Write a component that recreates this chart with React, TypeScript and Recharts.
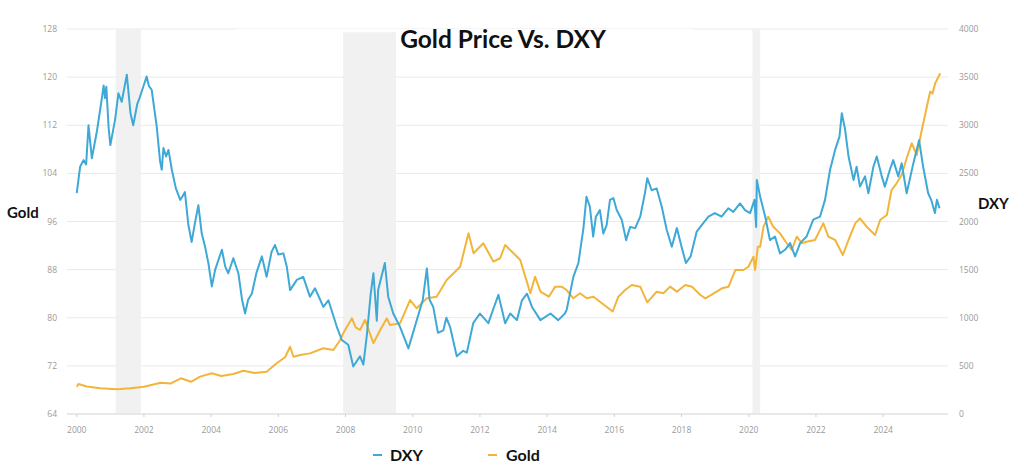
import React from "react";
import {
  ComposedChart,
  Line,
  XAxis,
  YAxis,
  CartesianGrid,
  ReferenceArea,
} from "recharts";

const dxyYears = [
  2000.0, 2000.1, 2000.2, 2000.28, 2000.35, 2000.45, 2000.6, 2000.74, 2000.8, 2000.84, 2000.88, 2000.95,
  2001.0, 2001.14, 2001.24, 2001.34, 2001.49, 2001.6, 2001.68, 2001.8, 2001.88, 2002.08, 2002.15, 2002.23,
  2002.38, 2002.48, 2002.53, 2002.58, 2002.66, 2002.73, 2002.83, 2002.95, 2003.08, 2003.15, 2003.22, 2003.32,
  2003.42, 2003.52, 2003.62, 2003.72, 2003.82, 2003.92, 2004.02, 2004.12, 2004.32, 2004.42, 2004.51, 2004.66,
  2004.81, 2004.92, 2005.01, 2005.1, 2005.21, 2005.35, 2005.51, 2005.65, 2005.8, 2005.9, 2006.0, 2006.15,
  2006.25, 2006.35, 2006.55, 2006.74, 2006.94, 2007.09, 2007.34, 2007.49, 2007.74, 2007.89, 2008.08, 2008.23,
  2008.43, 2008.53, 2008.63, 2008.75, 2008.83, 2008.93, 2008.97, 2009.17, 2009.27, 2009.42, 2009.62, 2009.87,
  2010.12, 2010.3, 2010.42, 2010.5, 2010.61, 2010.75, 2010.91, 2011.0, 2011.11, 2011.31, 2011.5, 2011.61,
  2011.8, 2012.0, 2012.25, 2012.4, 2012.55, 2012.75, 2012.9, 2013.1, 2013.25, 2013.4, 2013.55, 2013.8,
  2014.1, 2014.33, 2014.53, 2014.58, 2014.78, 2014.93, 2015.08, 2015.17, 2015.27, 2015.37, 2015.45, 2015.57,
  2015.67, 2015.77, 2015.87, 2015.97, 2016.07, 2016.22, 2016.35, 2016.47, 2016.62, 2016.77, 2016.91, 2016.98,
  2017.11, 2017.26, 2017.41, 2017.56, 2017.71, 2017.86, 2018.0, 2018.13, 2018.27, 2018.45, 2018.6, 2018.8,
  2018.99, 2019.19, 2019.39, 2019.54, 2019.74, 2019.89, 2020.04, 2020.17, 2020.22, 2020.24, 2020.34, 2020.49,
  2020.63, 2020.78, 2020.93, 2021.08, 2021.23, 2021.38, 2021.53, 2021.72, 2021.92, 2022.12, 2022.27, 2022.42,
  2022.57, 2022.7, 2022.77, 2022.87, 2022.97, 2023.12, 2023.21, 2023.31, 2023.46, 2023.56, 2023.71, 2023.81,
  2023.96, 2024.05, 2024.2, 2024.3, 2024.45, 2024.55, 2024.7, 2024.9, 2025.07, 2025.19, 2025.34, 2025.43,
  2025.54, 2025.6, 2025.68,
];
const dxyValues = [
  100.7, 105.1, 106.2, 105.5, 112, 106.5, 111, 116.2, 118.6, 116.5, 118.4, 111.5,
  108.7, 112.9, 117.3, 115.9, 120.4, 114, 112, 115.5, 116.7, 120.1, 118.5, 117.9,
  111.8, 106, 104.6, 108.2, 106.8, 107.9, 104.6, 101.5, 99.6, 100.2, 100.9, 95.5,
  92.6, 95.8, 98.7, 94, 91.8, 89, 85.2, 88, 91.3, 88.5, 87.4, 89.9,
  87.4, 83, 80.7, 83, 84, 87.5, 90.2, 86.8, 91, 92.1, 90.5, 90.7,
  88.5, 84.6, 86.3, 86.8, 83.5, 84.9, 81.8, 82.9, 78.5, 76.3, 75.5, 71.9,
  73.6, 72.2, 76.9, 84, 87.4, 79.5, 84.6, 89.1, 83.5, 80.7, 78.5, 74.9,
  79.6, 83, 88.2, 83, 81.8, 77.5, 77.9, 80, 78.5, 73.6, 74.5, 74.2,
  79.1, 80.7, 79.1, 81.5, 83.8, 79.1, 80.7, 79.6, 82.9, 84, 81.8, 79.6,
  80.7, 79.6, 80.7, 81.3, 86.8, 89.1, 94.9, 100.1, 98.5, 93.5, 96.8, 97.9,
  94.0, 95.4, 99.6, 99.9, 97.9, 96.3, 92.9, 95.1, 94.9, 96.8, 100.7, 103.2,
  101.2, 101.5, 98.5, 94.6, 91.8, 94.9, 91.8, 89.1, 90.2, 94.3, 95.4, 96.8,
  97.4, 96.8, 98.2, 97.6, 99.0, 97.9, 97.4, 99.6, 95.1, 102.9, 100.1, 96.8,
  92.9, 93.5, 90.7, 91.3, 92.4, 90.2, 92.4, 93.5, 96.3, 96.8, 99.6, 104.6,
  107.9, 110.1, 114, 111.2, 106.8, 102.9, 105.1, 101.8, 103.5, 100.7, 105.1, 106.8,
  103.5, 101.8, 104.6, 106.2, 103.5, 105.7, 100.7, 105.7, 109.5, 105.1, 100.7, 99.6,
  97.4, 99.6, 98.2,
];

const goldYears = [
  2000.0, 2000.05, 2000.3, 2000.7, 2001.2, 2001.6, 2002.0, 2002.5, 2002.8, 2003.1, 2003.4, 2003.67,
  2004.02, 2004.3, 2004.66, 2004.96, 2005.3, 2005.65, 2005.95, 2006.2, 2006.35, 2006.45, 2006.65, 2006.94,
  2007.34, 2007.64, 2007.84, 2007.93, 2008.19, 2008.3, 2008.43, 2008.58, 2008.83, 2009.03, 2009.23, 2009.32,
  2009.62, 2009.92, 2010.12, 2010.42, 2010.71, 2011.01, 2011.41, 2011.66, 2011.81, 2012.1, 2012.4, 2012.6,
  2012.75, 2013.0, 2013.2, 2013.35, 2013.5, 2013.64, 2013.8, 2014.05, 2014.24, 2014.43, 2014.58, 2014.78,
  2014.98, 2015.18, 2015.38, 2015.63, 2015.95, 2016.12, 2016.32, 2016.52, 2016.77, 2016.98, 2017.26, 2017.46,
  2017.66, 2017.86, 2018.11, 2018.31, 2018.56, 2018.71, 2018.96, 2019.2, 2019.4, 2019.6, 2019.84, 2019.99,
  2020.14, 2020.19, 2020.27, 2020.34, 2020.44, 2020.58, 2020.73, 2020.93, 2021.13, 2021.28, 2021.43, 2021.58,
  2021.72, 2021.97, 2022.22, 2022.37, 2022.57, 2022.8, 2022.97, 2023.17, 2023.31, 2023.51, 2023.76, 2023.91,
  2024.11, 2024.25, 2024.4, 2024.55, 2024.7, 2024.85, 2025.0, 2025.15, 2025.3, 2025.4, 2025.47, 2025.55,
  2025.7,
];
const goldValues = [
  284, 312, 285, 267, 256, 268, 284, 325, 318, 371, 335, 388,
  423, 395, 416, 450, 425, 440, 527, 590, 699, 595, 613, 630,
  683, 665, 769, 838, 994, 900, 873, 977, 735, 873, 994, 925,
  942, 1184, 1098, 1202, 1219, 1392, 1530, 1877, 1670, 1774, 1583, 1618,
  1756, 1670, 1600, 1427, 1254, 1427, 1271, 1219, 1323, 1323, 1288, 1202,
  1254, 1202, 1219, 1150, 1065, 1219, 1288, 1340, 1323, 1160, 1271, 1254,
  1323, 1271, 1340, 1323, 1236, 1202, 1254, 1306, 1323, 1496, 1496, 1530,
  1634, 1496, 1738, 1738, 1946, 2050, 1946, 1877, 1774, 1704, 1842, 1774,
  1790, 1808, 1981, 1842, 1808, 1652, 1808, 1981, 2033, 1946, 1860, 2016,
  2068, 2327, 2397, 2483, 2657, 2813, 2691, 2951, 3193, 3350, 3330, 3436,
  3540,
];

const xTicks = [2000, 2002, 2004, 2006, 2008, 2010, 2012, 2014, 2016, 2018, 2020, 2022, 2024];
const leftTicks = [64, 72, 80, 88, 96, 104, 112, 120, 128];
const rightTicks = [0, 500, 1000, 1500, 2000, 2500, 3000, 3500, 4000];
const recessionStarts = [2001.16, 2007.93, 2020.11];
const recessionEnds = [2001.91, 2009.5, 2020.34];

const dxyData = dxyYears.map((x, i) => ({ x, v: dxyValues[i] }));
const goldData = goldYears.map((x, i) => ({ x, v: goldValues[i] }));

const BLUE = "#3ea9d6";
const GOLD = "#f2b53a";
const tickStyle = { fill: "#9a9a9a", fontSize: 8.5, fontFamily: "Open Sans" };
const boldFont = "Lato";

export default function App() {
  return (
    <div style={{ position: "absolute", left: 0, top: 0, width: 1024, height: 466, background: "#fff" }}>
      <ComposedChart width={1024} height={466} margin={{ top: 29, right: 0, bottom: 0, left: 0 }}>
        <CartesianGrid vertical={false} stroke="#e9e9e9" yAxisId="l" />
        <XAxis
          dataKey="x"
          type="number"
          domain={[1999.71, 2025.93]}
          allowDataOverflow
          ticks={xTicks}
          height={52}
          tick={tickStyle}
          tickSize={3}
          tickMargin={10}
          stroke="#dcdcdc"
          tickLine={{ stroke: "#d0d0d0" }}
          axisLine={{ stroke: "#dcdcdc" }}
        />
        <YAxis
          yAxisId="l"
          orientation="left"
          width={67}
          domain={[64, 128]}
          ticks={leftTicks}
          axisLine={false}
          tickLine={false}
          tickSize={0}
          tickMargin={10}
          tick={tickStyle}
        />
        <YAxis
          yAxisId="r"
          orientation="right"
          width={76}
          domain={[0, 4000]}
          ticks={rightTicks}
          axisLine={false}
          tickLine={false}
          tickSize={0}
          tickMargin={11}
          tick={{ ...tickStyle, textAnchor: "start" }}
        />
        {recessionStarts.map((s, i) => (
          <ReferenceArea
            key={"rec" + i}
            yAxisId="l"
            x1={s}
            x2={recessionEnds[i]}
            fill="#f1f1f1"
            fillOpacity={1}
            stroke="none"
          />
        ))}
        <ReferenceArea yAxisId="l" x1={2004.77} x2={2018.34} y1={127.45} y2={128} fill="#ffffff" fillOpacity={1} stroke="none" />
        <Line
          yAxisId="r"
          data={goldData}
          dataKey="v"
          type="linear"
          stroke={GOLD}
          strokeWidth={2}
          strokeLinejoin="round"
          dot={false}
          isAnimationActive={false}
        />
        <Line
          yAxisId="l"
          data={dxyData}
          dataKey="v"
          type="linear"
          stroke={BLUE}
          strokeWidth={2}
          strokeLinejoin="round"
          dot={false}
          isAnimationActive={false}
        />
      </ComposedChart>
      <svg
        width={1024}
        height={466}
        style={{ position: "absolute", left: 0, top: 0, pointerEvents: "none" }}
      >
        <text x={503} y={48} textAnchor="middle" fontFamily={boldFont} fontWeight={700} fontSize={24.5} fill="#111">
          Gold Price Vs. DXY
        </text>
        <text x={7} y={218} fontFamily={boldFont} fontWeight={700} fontSize={15} fill="#111">
          Gold
        </text>
        <text x={978} y={209} fontFamily={boldFont} fontWeight={700} fontSize={15} fill="#111">
          DXY
        </text>
        <line x1={373} x2={382} y1={455} y2={455} stroke={BLUE} strokeWidth={2} />
        <text x={390} y={461} fontFamily={boldFont} fontWeight={700} fontSize={16} fill="#111">
          DXY
        </text>
        <line x1={488} x2={497} y1={455} y2={455} stroke={GOLD} strokeWidth={2} />
        <text x={506} y={461} fontFamily={boldFont} fontWeight={700} fontSize={16} fill="#111">
          Gold
        </text>
      </svg>
    </div>
  );
}
